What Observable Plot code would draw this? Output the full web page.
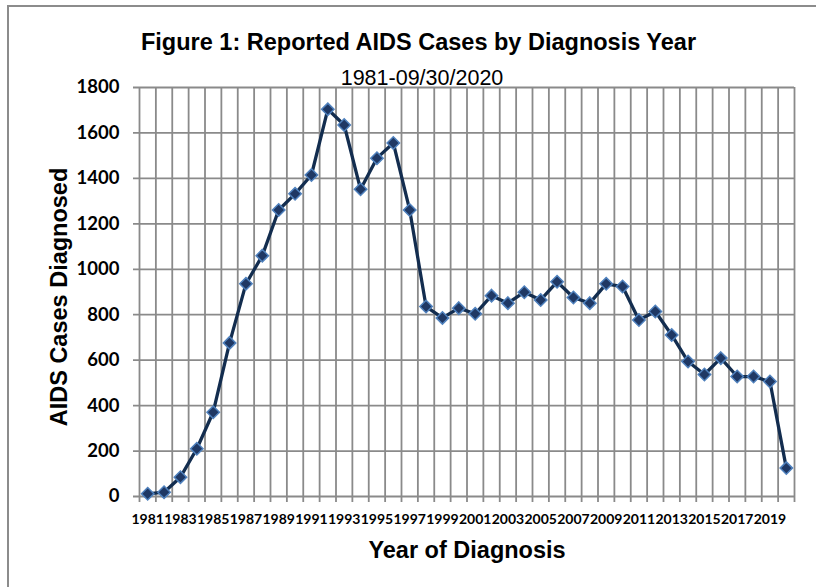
<!DOCTYPE html>
<html><head><meta charset="utf-8">
<script src="https://cdn.jsdelivr.net/npm/d3@7"></script>
<script src="https://cdn.jsdelivr.net/npm/@observablehq/plot@0.6"></script>
<style>
html,body{margin:0;padding:0;background:#fff;overflow:hidden;}
#wrap{position:relative;width:816px;height:587px;overflow:hidden;background:#fff;}
#frame{position:absolute;left:7px;top:5px;width:900px;height:700px;border:2px solid #8c8c8c;box-sizing:border-box;}
#chart{position:absolute;left:0;top:0;}
</style></head><body>
<div id="wrap"><div id="frame"></div><div id="chart"></div></div>
<script>
const years = [1981,1982,1983,1984,1985,1986,1987,1988,1989,1990,1991,1992,1993,1994,1995,1996,1997,1998,1999,2000,2001,2002,2003,2004,2005,2006,2007,2008,2009,2010,2011,2012,2013,2014,2015,2016,2017,2018,2019,2020];
const cases = [12,19,85,210,371,676,936,1060,1261,1332,1415,1704,1635,1352,1489,1556,1261,836,786,829,804,884,851,899,865,945,876,851,936,924,777,814,711,594,537,609,528,528,506,125];
const yTicks = [0,200,400,600,800,1000,1200,1400,1600,1800];
const xTickYears = [1981,1983,1985,1987,1989,1991,1993,1995,1997,1999,2001,2003,2005,2007,2009,2011,2013,2015,2017,2019];
const titleText = "Figure 1: Reported AIDS Cases by Diagnosis Year";
const subtitleText = "1981-09/30/2020";
const xTitle = "Year of Diagnosis";
const yTitle = "AIDS Cases Diagnosed";

const data = years.map((year, i) => ({year, cases: cases[i]}));
const boundaries = [years[0] - 0.5, ...years.map(y => y + 0.5)];
const gridColor = "#8a8a8a";
const titleFont = "'Liberation Sans', Arial, sans-serif";
const tickFont = "Lato, 'Open Sans', sans-serif";

const plot = Plot.plot({
  width: 816, height: 587,
  marginLeft: 139, marginRight: 22, marginTop: 87, marginBottom: 91,
  style: {background: "transparent", overflow: "visible"},
  x: {type: "linear", domain: [boundaries[0], boundaries[boundaries.length - 1]], axis: null},
  y: {domain: [0, 1800], axis: null},
  marks: [
    Plot.ruleX(boundaries, {x: d => d, stroke: gridColor, strokeWidth: 1.8, insetBottom: -6}),
    Plot.ruleY(yTicks, {y: d => d, stroke: gridColor, strokeWidth: 1.8, insetLeft: -6}),
    Plot.line(data, {x: "year", y: "cases", stroke: "#132d4f", strokeWidth: 3.3}),
    Plot.dot(data, {x: "year", y: "cases", symbol: "diamond2", r: 5.6, fill: "#1f3864", stroke: "#4f81bd", strokeWidth: 1.5}),
    Plot.text(xTickYears, {x: d => d, text: d => String(d), frameAnchor: "bottom", lineAnchor: "bottom", dy: 27,
      fontFamily: tickFont, fontWeight: "bold", fontSize: 14, fill: "#000"}),
    Plot.text(yTicks, {y: d => d, text: d => String(d), frameAnchor: "left", textAnchor: "end", lineAnchor: "middle", dx: -20,
      fontFamily: tickFont, fontWeight: "bold", fontSize: 18.5, fill: "#000"}),
    Plot.text([xTitle], {text: d => d, frameAnchor: "bottom", lineAnchor: "bottom", dy: 61,
      fontFamily: titleFont, fontWeight: "bold", fontSize: 23.5, fill: "#000"}),
    Plot.text([yTitle], {text: d => d, frameAnchor: "left", textAnchor: "middle", lineAnchor: "bottom", rotate: -90, dx: -73, dy: 5,
      fontFamily: titleFont, fontWeight: "bold", fontSize: 23.5, fill: "#000"}),
    Plot.text([titleText], {text: d => d, frameAnchor: "top", lineAnchor: "bottom", dx: -48.5, dy: -38,
      fontFamily: titleFont, fontWeight: "bold", fontSize: 23.5, fill: "#000"}),
    Plot.text([subtitleText], {text: d => d, frameAnchor: "top", lineAnchor: "bottom", dx: -45, dy: -3,
      fontFamily: titleFont, fontWeight: "normal", fontSize: 21.5, fill: "#000"})
  ]
});
document.getElementById("chart").appendChild(plot);
</script>
</body></html>
